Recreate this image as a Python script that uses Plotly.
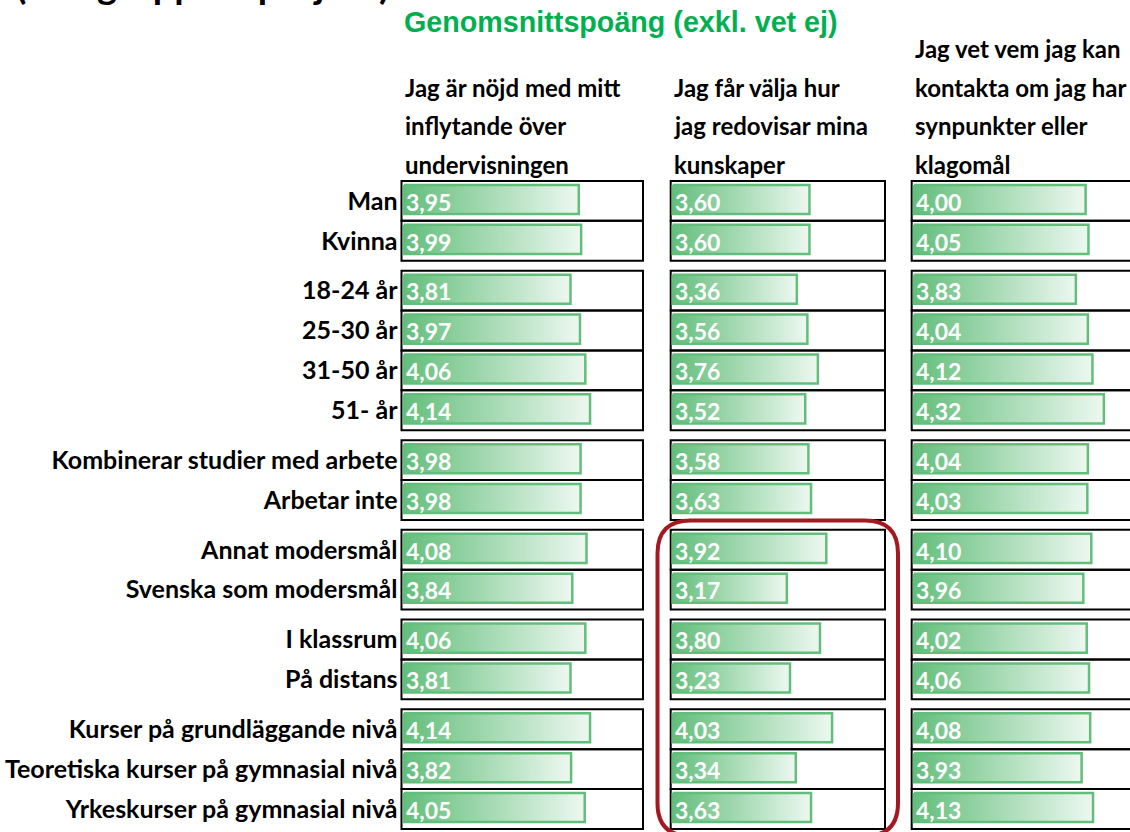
import plotly.graph_objects as go

# ---------------- data ----------------
row_labels = [
    "Man", "Kvinna",
    "18-24 år", "25-30 år", "31-50 år", "51- år",
    "Kombinerar studier med arbete", "Arbetar inte",
    "Annat modersmål", "Svenska som modersmål",
    "I klassrum", "På distans",
    "Kurser på grundläggande nivå", "Teoretiska kurser på gymnasial nivå",
    "Yrkeskurser på gymnasial nivå",
]
group_sizes = [2, 4, 2, 2, 2, 3]
question_lines = [
    ["Jag är nöjd med mitt", "inflytande över", "undervisningen"],
    ["Jag får välja hur", "jag redovisar mina", "kunskaper"],
    ["Jag vet vem jag kan", "kontakta om jag har", "synpunkter eller", "klagomål"],
]
q1 = [3.95, 3.99, 3.81, 3.97, 4.06, 4.14, 3.98, 3.98, 4.08, 3.84, 4.06, 3.81, 4.14, 3.82, 4.05]
q2 = [3.60, 3.60, 3.36, 3.56, 3.76, 3.52, 3.58, 3.63, 3.92, 3.17, 3.80, 3.23, 4.03, 3.34, 3.63]
q3 = [4.00, 4.05, 3.83, 4.04, 4.12, 4.32, 4.04, 4.03, 4.10, 3.96, 4.02, 4.06, 4.08, 3.93, 4.13]
series = [q1, q2, q3]
scale_min, scale_max = 1, 5
title_text = "Genomsnittspoäng (exkl. vet ej)"
top_text = "(Elevgrupper i projekt)"

# ---------------- layout constants ----------------
W, H = 1130, 832
ROW_PX = 39.87
TOP_PX = 181
GAP = 0.25
GREEN = "#63BE7B"
LABEL_FONT = "Lato"

tops = []
for g, n in enumerate(group_sizes):
    for _ in range(n):
        tops.append(len(tops) + GAP * g)
centers = [t + 0.5 for t in tops]
y_range = [(H - TOP_PX) / ROW_PX, -TOP_PX / ROW_PX]

# box_left, box_right, bar_start (px), px per unit
cols = [
    (401.5, 643.0, 404.0, 59.25),
    (670.7, 885.0, 672.7, 52.6),
    (911.7, 1145.0, 914.0, 57.2),
]

fig = go.Figure()
shapes = []
annotations = []
layout_axes = {}

for c, (bl, br, bs, ppu) in enumerate(cols):
    n = c + 1
    xname = "x" if n == 1 else f"x{n}"
    axkey = "xaxis" if n == 1 else f"xaxis{n}"
    vis_r = min(br, W)
    layout_axes[axkey] = dict(
        domain=[bl / W, vis_r / W],
        range=[scale_min - (bs - bl) / ppu, scale_min + (vis_r - bs) / ppu],
        visible=False, fixedrange=True, anchor="y",
    )
    vals = series[c]
    # cell boxes
    for t in tops:
        shapes.append(dict(
            type="rect", xref=f"{xname} domain", yref="y",
            x0=0, x1=1 if br <= W else 1.1, y0=t, y1=t + 1,
            line=dict(color="black", width=2), fillcolor="rgba(0,0,0,0)", layer="below",
        ))
    # gradient data bars
    for t, v in zip(tops, vals):
        y0b, y1b = t + 0.10, t + 0.83
        fig.add_trace(go.Scatter(
            x=[scale_min, v, v, scale_min, scale_min],
            y=[y0b, y0b, y1b, y1b, y0b],
            xaxis=xname, yaxis="y",
            mode="lines", fill="toself",
            fillgradient=dict(type="horizontal",
                              colorscale=[[0, GREEN], [1, "#EDF8F0"]]),
            line=dict(color=GREEN, width=2.5),
            hoverinfo="skip", showlegend=False,
        ))
        annotations.append(dict(
            xref=xname, yref="y", x=scale_min, y=t + 0.52,
            text=f"{v:.2f}".replace(".", ","), showarrow=False,
            xanchor="left", yanchor="middle", xshift=0,
            font=dict(family=LABEL_FONT, size=23, color="white", weight="bold"),
        ))
    # header lines
    lines = question_lines[c]
    for k, line in enumerate(lines):
        annotations.append(dict(
            xref=f"{xname} domain", yref="y", x=0,
            y=-0.42 - (len(lines) - 1 - k) * 0.966,
            text=line, showarrow=False, xanchor="left", yanchor="middle", xshift=1,
            font=dict(family=LABEL_FONT, size=24, color="black", weight="bold"),
        ))

# title
annotations.append(dict(
    xref="paper", yref="paper", x=402 / W, y=1 - 22 / H,
    text=title_text, showarrow=False, xanchor="left", yanchor="middle",
    font=dict(family="Liberation Sans", size=28.7, color="#00B050", weight="bold"),
))
# partially visible heading above the picture
annotations.append(dict(
    xref="paper", yref="paper", x=14 / W, y=1 - 9 / H,
    text=top_text, showarrow=False, xanchor="left", yanchor="bottom",
    font=dict(family=LABEL_FONT, size=38, color="black", weight="bold"),
))

# red rounded highlight rectangle
x0, x1 = 657.5 / W, 898.0 / W
yt, yb = 1 - 520.5 / H, 1 - 836.0 / H
rx, ry = 33 / W, 33 / H
path = (f"M {x0+rx},{yt} L {x1-rx},{yt} Q {x1},{yt} {x1},{yt-ry} "
        f"L {x1},{yb+ry} Q {x1},{yb} {x1-rx},{yb} L {x0+rx},{yb} "
        f"Q {x0},{yb} {x0},{yb+ry} L {x0},{yt-ry} Q {x0},{yt} {x0+rx},{yt} Z")
shapes.append(dict(type="path", xref="paper", yref="paper", path=path,
                   line=dict(color="#A3191F", width=4), layer="above"))

fig.update_layout(
    width=W, height=H,
    margin=dict(l=0, r=0, t=0, b=0),
    paper_bgcolor="white", plot_bgcolor="white",
    showlegend=False,
    yaxis=dict(
        domain=[0, 1], range=y_range, anchor="x",
        tickvals=centers, ticktext=row_labels,
        ticks="", showgrid=False, zeroline=False, showline=False,
        ticklabelstandoff=3,
        tickfont=dict(family=LABEL_FONT, size=25, color="black", weight="bold"),
        fixedrange=True,
    ),
    shapes=shapes,
    annotations=annotations,
    **layout_axes,
)

fig.write_html(
    "out.html",
    config={"displayModeBar": False},
    post_script="document.body.style.margin='0';document.body.style.overflow='hidden';",
)
